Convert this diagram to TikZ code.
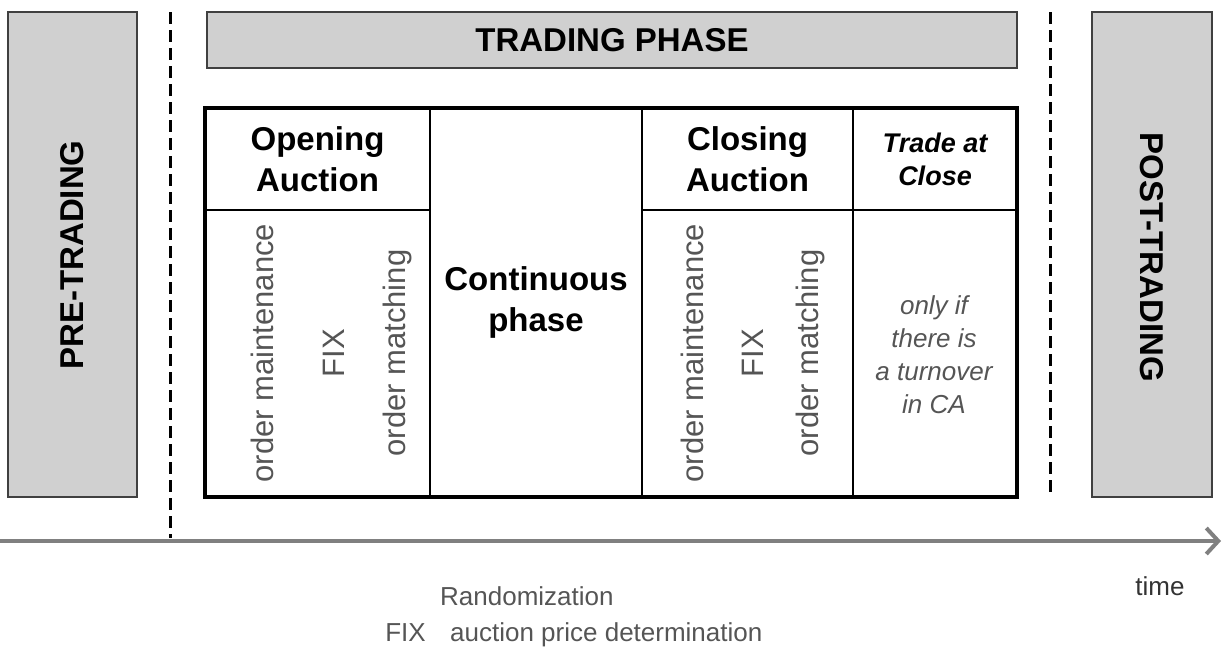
\documentclass[tikz,border=0pt]{standalone}
\usepackage{fontspec}
\setmainfont{Liberation Sans}
\usetikzlibrary{arrows.meta}
\definecolor{boxgray}{HTML}{D0D0D0}
\definecolor{framegray}{HTML}{404040}
\definecolor{textgray}{HTML}{555555}
\definecolor{axisgray}{HTML}{808080}
\tikzset{
  graybox/.style={draw=framegray, line width=1.5pt, fill=boxgray, inner sep=0pt},
  cell/.style={draw, line width=2.5pt, inner sep=0pt, align=center},
  headtext/.style={font=\fontsize{33}{41}\selectfont\bfseries},
  tactext/.style={font=\fontsize{27}{33}\selectfont\bfseries\itshape},
  ordertext/.style={font=\fontsize{31}{37}\selectfont, text=textgray, rotate=90, inner sep=0pt},
  notetext/.style={font=\fontsize{26}{33}\selectfont\itshape, text=textgray, align=center, inner sep=0pt},
  legendtext/.style={font=\fontsize{26}{30}\selectfont, text=textgray, inner sep=0pt},
  phaseline/.style={line width=3pt, dash pattern=on 12pt off 6pt}
}
\begin{document}
\begin{tikzpicture}[x=1pt, y=-1pt]
\useasboundingbox (0,0) rectangle (1222,649);
% боковые фазы
\node[graybox, minimum width=129pt, minimum height=485pt] (pre) at (72.5,254.5) {};
\node[headtext, rotate=90] (pretext) at (72,255) {PRE-TRADING};
\node[graybox, minimum width=120pt, minimum height=485pt] (post) at (1152,254.5) {};
\node[headtext, rotate=-90] (posttext) at (1152,257) {POST-TRADING};
\node[graybox, headtext, minimum width=810pt, minimum height=56pt] (trading) at (612,40) {TRADING PHASE}; % верхняя плашка
% ячейки таблицы
\node[cell, headtext, minimum width=225pt, minimum height=102pt] (openhead) at (317.5,159) {Opening\\Auction};
\node[cell, minimum width=225pt, minimum height=287pt] (openbody) at (317.5,353.5) {};
\node[cell, headtext, minimum width=212pt, minimum height=389pt] (cont) at (536,302.5) {Continuous\\phase};
\node[cell, headtext, minimum width=211pt, minimum height=102pt] (closehead) at (747.5,159) {Closing\\Auction};
\node[cell, minimum width=211pt, minimum height=287pt] (closebody) at (747.5,353.5) {};
\node[cell, tactext, minimum width=164pt, minimum height=102pt] (tachead) at (935,159) {Trade at\\Close};
\node[cell, minimum width=164pt, minimum height=287pt] (tacbody) at (935,353.5) {};
\draw[line width=3.5pt] (205,108) rectangle (1017,497); % внешняя рамка
% подписи внутри аукционов
\node[ordertext] (openmaint) at (262,353) {order maintenance};
\node[ordertext] (openfix) at (334,353) {FIX};
\node[ordertext] (openmatch) at (397,353) {order matching};
\node[ordertext] (closemaint) at (692,353) {order maintenance};
\node[ordertext] (closefix) at (753,353) {FIX};
\node[ordertext] (closematch) at (810,353) {order matching};
\node[notetext] (tacnote) at (934,355) {only if\\there is\\a turnover\\in CA};
% границы торговой фазы
\draw[phaseline] (170,12) -- (170,538);
\draw[phaseline] (1050,12) -- (1050,497);
% ось времени
\coordinate (axisstart) at (0,541);
\coordinate (axisend) at (1221,541);
\draw[axisgray, line width=4pt, -{Straight Barb[length=12pt, width=26pt]}] (axisstart) -- (axisend);
\node[font=\fontsize{26}{30}\selectfont, text=black!80] (timelabel) at (1160,586) {time};
% легенда
\node[legendtext, anchor=base west] (randleg) at (440,605) {Randomization};
\node[legendtext, anchor=base east] (fixleg) at (426,641) {FIX};
\node[legendtext, anchor=base west] (priceleg) at (450,641) {auction price determination};
\end{tikzpicture}
\end{document}
